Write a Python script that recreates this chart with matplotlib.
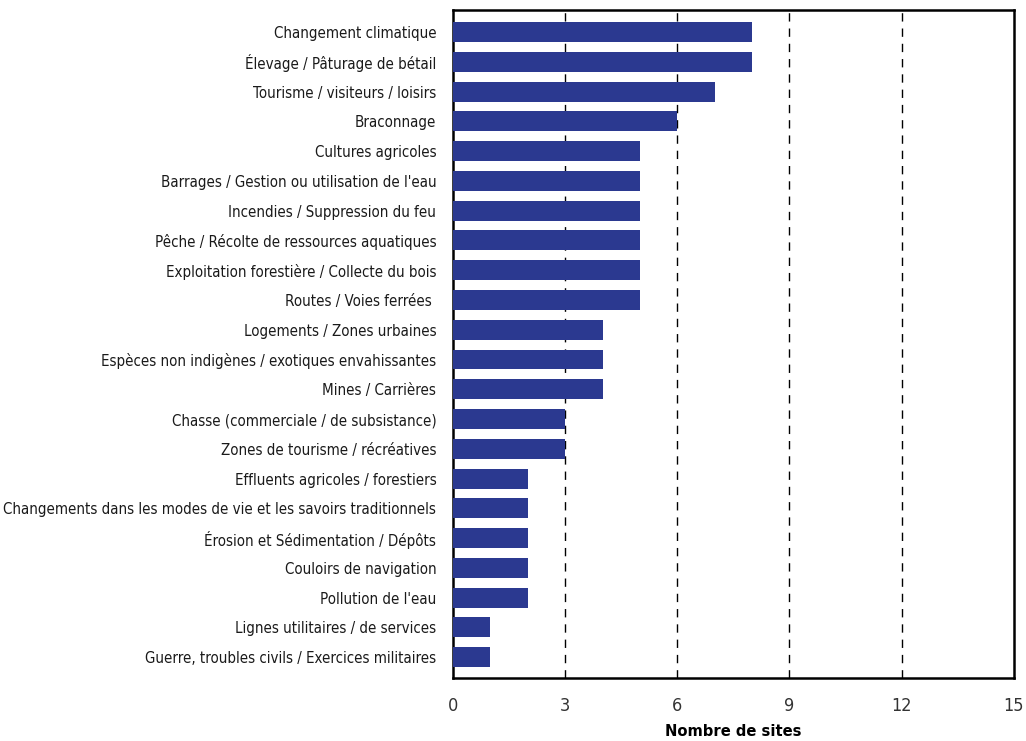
import matplotlib
matplotlib.use('Agg')
import matplotlib.pyplot as plt

plt.rcParams['font.family'] = ['DejaVu Sans']
plt.rcParams['font.stretch'] = 'condensed'

# --- data (top to bottom)
categories = ['Changement climatique',
              'Élevage / Pâturage de bétail',
              'Tourisme / visiteurs / loisirs',
              'Braconnage',
              'Cultures agricoles',
              "Barrages / Gestion ou utilisation de l'eau",
              'Incendies / Suppression du feu',
              'Pêche / Récolte de ressources aquatiques',
              'Exploitation forestière / Collecte du bois',
              'Routes / Voies ferrées ',
              'Logements / Zones urbaines',
              'Espèces non indigènes / exotiques envahissantes',
              'Mines / Carrières',
              'Chasse (commerciale / de subsistance)',
              'Zones de tourisme / récréatives',
              'Effluents agricoles / forestiers',
              'Changements dans les modes de vie et les savoirs traditionnels',
              'Érosion et Sédimentation / Dépôts',
              'Couloirs de navigation',
              "Pollution de l'eau",
              'Lignes utilitaires / de services',
              'Guerre, troubles civils / Exercices militaires']
counts = [8, 8, 7, 6, 5, 5, 5, 5, 5, 5, 4, 4, 4, 3, 3, 2, 2, 2, 2, 2, 1, 1]
xticks = [0, 3, 6, 9, 12, 15]

fig = plt.figure(figsize=(10.26, 7.41), dpi=100)
ax = fig.add_axes([0.4415, 0.085, 0.5465, 0.9015])

ypos = list(range(len(categories)))
ax.barh(ypos, counts, height=0.67, color='#2B3990', zorder=3)

# dashed grid lines
for g in xticks[1:-1]:
    ax.axvline(g, color='black', linestyle=(0, (6, 5)), linewidth=1, zorder=1)

ax.set_xlim(0, 15)
ax.set_ylim(len(categories) - 0.3, -0.74)
ax.set_xticks(xticks)
ax.set_yticks(ypos)
ax.set_yticklabels(categories, fontsize=10.8, color='#1a1a1a')
ax.tick_params(axis='x', labelsize=13, length=0, pad=14, labelcolor='#333333')
ax.tick_params(axis='y', length=0, pad=12)
for s in ax.spines.values():
    s.set_linewidth(1.8)

ax.set_xlabel('Nombre de sites', fontsize=11.8, fontweight='bold', labelpad=6)

fig.savefig('out.png', dpi=100)
